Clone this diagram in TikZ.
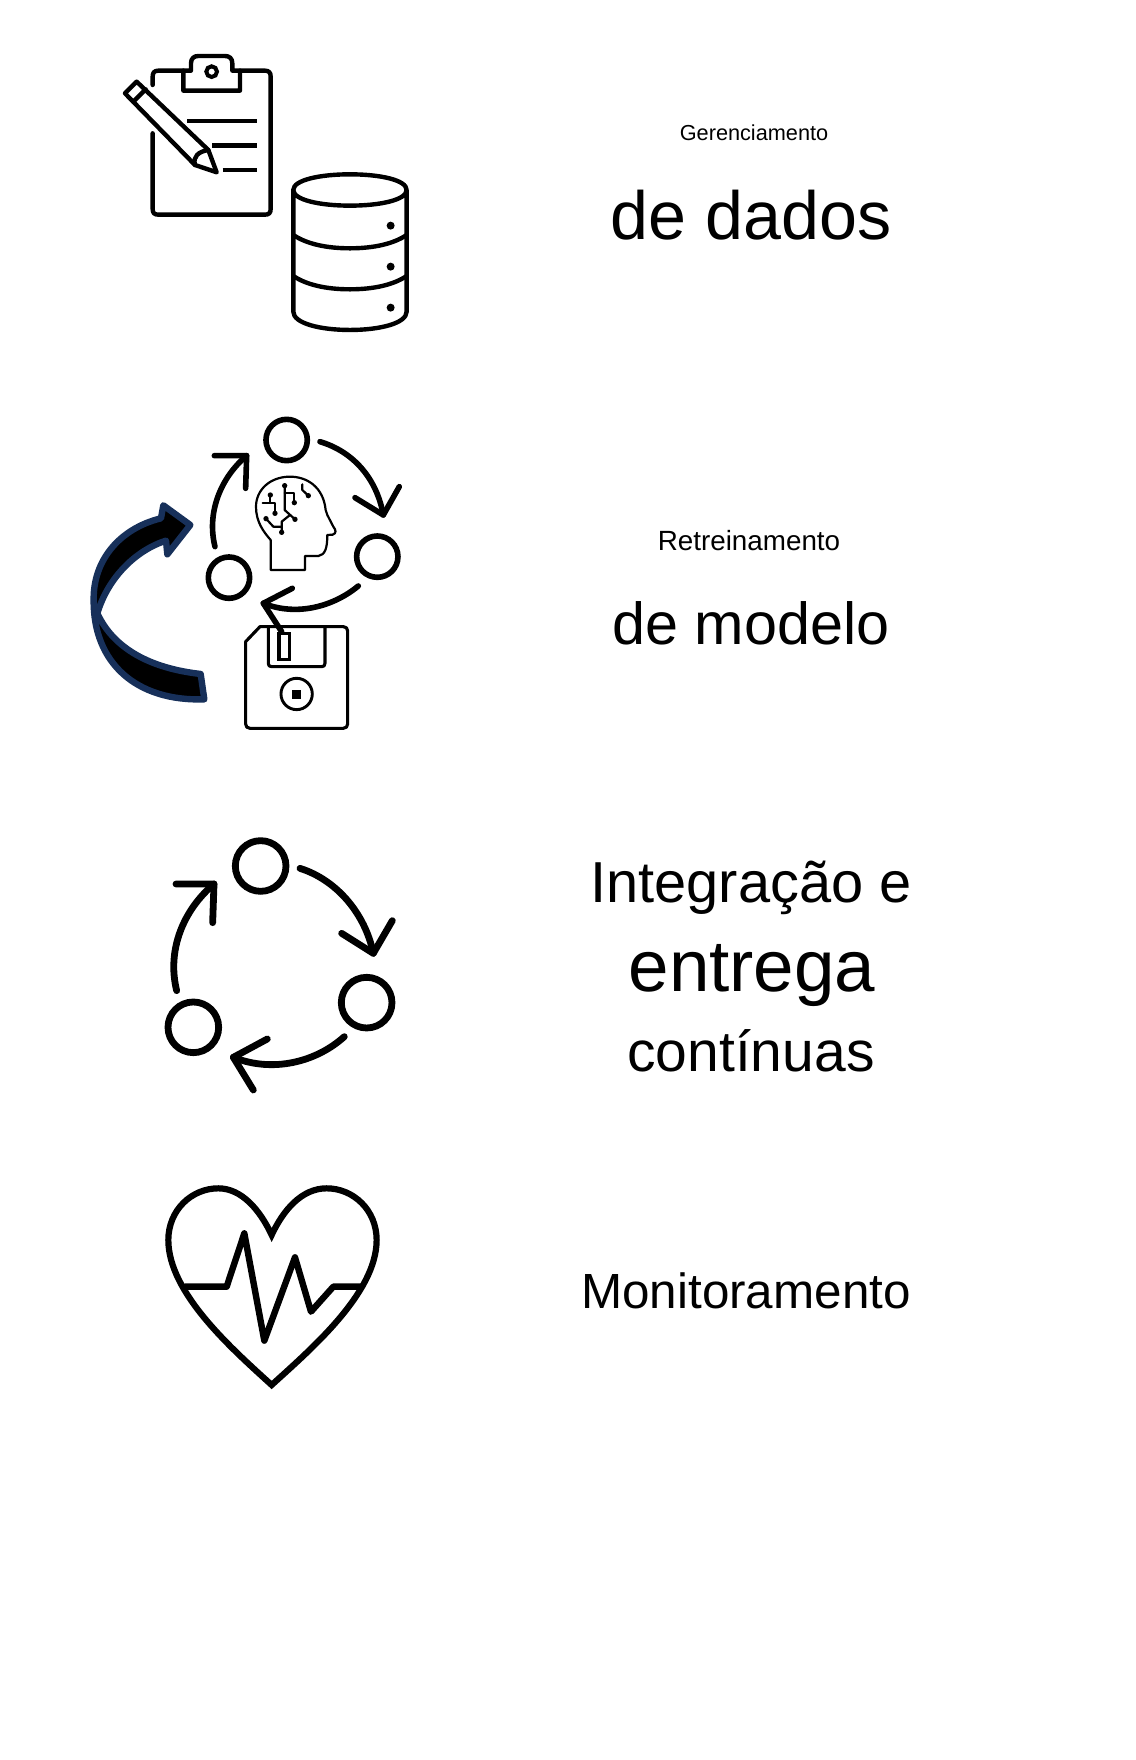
\documentclass[tikz,border=0pt]{standalone}
\usepackage{fontspec}
\setmainfont{Liberation Sans}
\definecolor{navy}{HTML}{17305A}
\tikzset{
  ln/.style={line width=#1,line cap=round,line join=round,black},
  lab/.style={anchor=base,inner sep=0pt,text=black},
}
\begin{document}
\begin{tikzpicture}[x=1pt,y=-1pt]
\useasboundingbox (0,0) rectangle (1135,1760);
\fill[white] (0,0) rectangle (1135,1760);
% --- clipboard + database
\begin{scope}[shift={(100,40)},x=0.3333pt,y=-0.3333pt]
  \draw[ln=4.4pt] (158,135) -- (158,110) .. controls (158,98) and (163,92) .. (175,92) -- (250,92)
     (420,92) -- (495,92) .. controls (507,92) and (512,98) .. (512,110) -- (512,507)
     .. controls (512,519) and (507,524) .. (495,524) -- (175,524) .. controls (163,524) and (158,519) .. (158,507) -- (158,280);
  \draw[ln=4.4pt] (250,152) -- (250,92) -- (273,92) -- (273,70) .. controls (273,55) and (282,48) .. (295,48) -- (375,48)
     .. controls (388,48) and (397,55) .. (397,70) -- (397,92) -- (420,92) -- (420,152) -- cycle;
  \draw[line width=4pt] (335,95) circle (16);
  \draw[line width=4.4pt] (262,243) -- (470,243) (337,317) -- (470,317) (368,390) -- (470,390);
  \draw[ln=4.4pt,fill=white] (110,125) -- (75,160) -- (285,375) -- (350,397) -- (325,330) -- cycle;
  \draw[ln=4.4pt] (100,185) -- (137,148);
  \draw[ln=4.4pt] (325,330) .. controls (295,335) and (278,350) .. (285,375);
  % database
  \draw[ln=4.4pt] (580,450) .. controls (580,420) and (660,403) .. (750,403) .. controls (840,403) and (920,420) .. (920,450)
     .. controls (920,480) and (840,497) .. (750,497) .. controls (660,497) and (580,480) .. (580,450) -- (580,815)
     .. controls (580,850) and (660,870) .. (750,870) .. controls (840,870) and (920,850) .. (920,815) -- (920,450);
  \draw[ln=4.4pt] (580,585) .. controls (620,612) and (680,625) .. (750,625) .. controls (820,625) and (880,612) .. (920,585);
  \draw[ln=4.4pt] (580,708) .. controls (620,735) and (680,748) .. (750,748) .. controls (820,748) and (880,735) .. (920,708);
  \fill (872,557) circle (12) (872,680) circle (12) (872,803) circle (12);
\end{scope}
% --- retraining
\begin{scope}[shift={(80,400)},x=0.3333pt,y=-0.3333pt]
  \draw[line width=6.4pt,navy,fill=black,line join=round]
    (362,822) .. controls (210,805) and (100,745) .. (52,640)
    .. controls (85,530) and (170,450) .. (258,422) -- (262,463) -- (331,375) -- (250,316) -- (243,355)
    .. controls (120,385) and (39,480) .. (41,600)
    .. controls (39,790) and (170,905) .. (373,898) -- cycle;
  \draw[line width=5.6pt] (620,120) circle (62) (892,470) circle (62) (447,533) circle (62);
  \draw[ln=5.6pt] (720,125) .. controls (820,155) and (890,235) .. (910,345);
  \draw[ln=5.6pt] (825,293) -- (910,345) -- (958,260);
  \draw[ln=5.6pt] (835,558) .. controls (760,620) and (650,650) .. (550,610);
  \draw[ln=5.6pt] (637,565) -- (550,610) -- (605,695);
  \draw[ln=5.6pt] (405,440) .. controls (380,340) and (420,235) .. (500,167);
  \draw[ln=5.6pt] (403,167) -- (500,167) -- (497,265);
  % floppy
  \draw[ln=3.1pt] (497,725) -- (540,680) -- (790,680) .. controls (798,680) and (803,685) .. (803,693) -- (803,972)
     .. controls (803,980) and (798,985) .. (790,985) -- (510,985) .. controls (502,985) and (497,980) .. (497,972) -- cycle;
  \draw[ln=3.1pt] (565,680) -- (565,790) .. controls (565,797) and (568,800) .. (575,800) -- (725,800) .. controls (732,800) and (735,797) .. (735,790) -- (735,680);
  \draw[line width=3.1pt] (597,700) rectangle (628,778);
  \draw[line width=2.9pt] (650,882) circle (47);
  \fill (637,870) rectangle (663,897);
\end{scope}
\begin{scope}[shift={(240,460)},x=0.3333pt,y=-0.3333pt]
  \draw[ln=2.2pt] (92,240) -- (92,330) -- (195,330) -- (195,288) -- (235,288) .. controls (255,285) and (262,265) .. (262,225)
     -- (278,224) .. controls (290,220) and (288,210) .. (280,200) -- (262,165) -- (257,150)
     .. controls (250,80) and (200,50) .. (150,50) .. controls (90,50) and (48,90) .. (48,140) .. controls (48,185) and (70,215) .. (92,240);
  \draw[ln=2.2pt] (134,77) -- (134,150) -- (165,178);
  \draw[ln=2.2pt] (134,100) -- (163,100) -- (163,128);
  \draw[ln=2.2pt] (150,165) -- (125,185) -- (125,217);
  \draw[ln=2.2pt] (78,176) -- (100,200) -- (125,200);
  \draw[ln=2.2pt] (91,105) -- (91,130) -- (68,130);
  \draw[ln=2.2pt] (91,130) -- (105,130) -- (105,160);
  \draw[ln=2.2pt] (187,73) -- (187,90) -- (205,107);
  \fill (134,77) circle (8) (165,178) circle (8) (163,128) circle (8) (125,217) circle (8) (78,176) circle (8) (91,105) circle (8) (105,160) circle (8) (205,107) circle (8);
\end{scope}
% --- CI/CD
\begin{scope}[shift={(150,820)},x=0.3333pt,y=-0.3333pt]
  \draw[line width=6.8pt] (332,138) circle (76) (650,548) circle (76) (130,622) circle (76);
  \draw[ln=6.8pt] (450,145) .. controls (560,180) and (645,280) .. (670,400);
  \draw[ln=6.8pt] (575,340) -- (670,400) -- (727,302);
  \draw[ln=6.8pt] (583,650) .. controls (500,725) and (370,760) .. (250,712);
  \draw[ln=6.8pt] (352,657) -- (250,712) -- (310,810);
  \draw[ln=6.8pt] (80,512) .. controls (50,390) and (100,270) .. (192,192);
  \draw[ln=6.8pt] (78,192) -- (192,192) -- (188,308);
\end{scope}
% --- heart
\begin{scope}[shift={(150,1170)},x=0.3333pt,y=-0.3333pt]
  \draw[line width=6.2pt,line join=miter,miter limit=10] (365,645) .. controls (250,540) and (55,370) .. (55,210)
     .. controls (55,120) and (125,55) .. (205,55) .. controls (275,55) and (330,120) .. (365,195)
     .. controls (400,120) and (455,55) .. (530,55) .. controls (610,55) and (680,120) .. (680,210)
     .. controls (680,370) and (480,540) .. (365,645) -- cycle;
  \draw[ln=6.4pt] (105,350) -- (230,350) -- (283,190) -- (343,512) -- (435,262) -- (483,425) -- (550,350) -- (630,350);
\end{scope}
% --- labels
\node[lab,font=\fontsize{21.7}{26}\selectfont] (t1) at (754,141) {Gerenciamento};
\node[lab,font=\fontsize{68.2}{80}\selectfont] (t2) at (751,240) {de dados};
\node[lab,font=\fontsize{27.8}{32}\selectfont] (t3) at (749,550) {Retreinamento};
\node[lab,font=\fontsize{59.3}{70}\selectfont] (t4) at (751,644.5) {de modelo};
\node[lab,font=\fontsize{57.8}{68}\selectfont] (t5) at (751,902) {Integração e};
\node[lab,font=\fontsize{72.8}{86}\selectfont] (t6) at (752,991) {entrega};
\node[lab,font=\fontsize{57}{68}\selectfont] (t7) at (751,1071) {contínuas};
\node[lab,font=\fontsize{49.4}{58}\selectfont] (t8) at (746,1308.5) {Monitoramento};
\end{tikzpicture}
\end{document}
